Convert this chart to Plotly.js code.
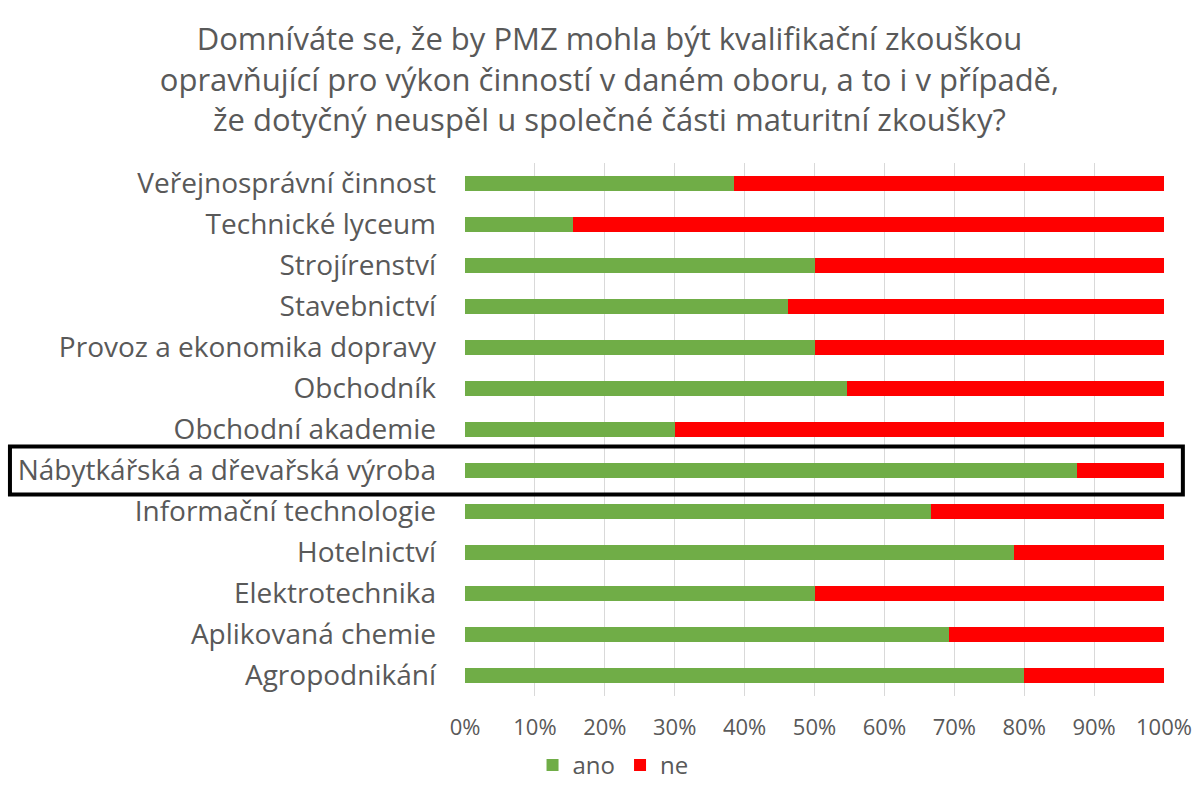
<!DOCTYPE html>
<html>
<head>
<meta charset="utf-8">
<script src="https://cdn.plot.ly/plotly-3.0.1.min.js"></script>
<style>html,body{margin:0;padding:0;background:#fff;}#chart{width:1195px;height:789px;}</style>
</head>
<body>
<div id="chart"></div>
<script>
const categories = [
  "Veřejnosprávní činnost",
  "Technické lyceum",
  "Strojírenství",
  "Stavebnictví",
  "Provoz a ekonomika dopravy",
  "Obchodník",
  "Obchodní akademie",
  "Nábytkářská a dřevařská výroba",
  "Informační technologie",
  "Hotelnictví",
  "Elektrotechnika",
  "Aplikovaná chemie",
  "Agropodnikání"
];
const ano = [0.385, 0.154, 0.50, 0.462, 0.50, 0.546, 0.30, 0.875, 0.667, 0.786, 0.50, 0.692, 0.80];
const ne  = [0.615, 0.846, 0.50, 0.538, 0.50, 0.454, 0.70, 0.125, 0.333, 0.214, 0.50, 0.308, 0.20];
const seriesNames = ["ano", "ne"];
const highlighted = "Nábytkářská a dřevařská výroba";
const titleText = "Domníváte se, že by PMZ mohla být kvalifikační zkouškou<br>opravňující pro výkon činností v daném oboru, a to i v případě,<br>že dotyčný neuspěl u společné části maturitní zkoušky?";

const FONT = "'Open Sans', 'Noto Sans', sans-serif";
const GRAY = "#595959";

const traces = [
  {type: "bar", orientation: "h", name: seriesNames[0], y: categories, x: ano,
   marker: {color: "#70ad47"}, hoverinfo: "x+y"},
  {type: "bar", orientation: "h", name: seriesNames[1], y: categories, x: ne,
   marker: {color: "#ff0000"}, hoverinfo: "x+y"}
];

const hi = categories.indexOf(highlighted);

const layout = {
  width: 1195, height: 789,
  paper_bgcolor: "#ffffff", plot_bgcolor: "#ffffff",
  barmode: "stack",
  bargap: 0.63,
  margin: {l: 465, r: 31, t: 163, b: 93},
  font: {family: FONT, color: GRAY},
  title: {
    text: titleText,
    font: {family: FONT, size: 31, color: GRAY},
    xref: "container", x: 0.51, xanchor: "center",
    yref: "container", y: 0.936, yanchor: "top"
  },
  xaxis: {
    range: [0, 1], tickformat: ".0%", dtick: 0.1, tick0: 0,
    showgrid: true, gridcolor: "#d9d9d9", gridwidth: 1,
    zeroline: false, showline: false,
    tickfont: {family: FONT, size: 22, color: GRAY},
    ticks: "", ticklabelstandoff: 16, fixedrange: true
  },
  yaxis: {
    autorange: "reversed", type: "category",
    showgrid: false, zeroline: false, showline: false,
    tickfont: {family: FONT, size: 28, color: GRAY},
    ticks: "", ticklabelstandoff: 28, fixedrange: true
  },
  legend: {
    orientation: "h", xref: "container", yref: "container",
    x: 0.513, xanchor: "center", y: 0.03, yanchor: "middle",
    font: {family: FONT, size: 24, color: GRAY}, traceorder: "normal"
  },
  shapes: [{
    type: "rect", xref: "paper", yref: "y",
    x0: -0.651, x1: 1.027, y0: hi - 0.585, y1: hi + 0.585,
    line: {color: "#000000", width: 4}, fillcolor: "rgba(0,0,0,0)", layer: "above"
  }]
};

Plotly.newPlot("chart", traces, layout, {displayModeBar: false, staticPlot: true});
</script>
</body>
</html>
